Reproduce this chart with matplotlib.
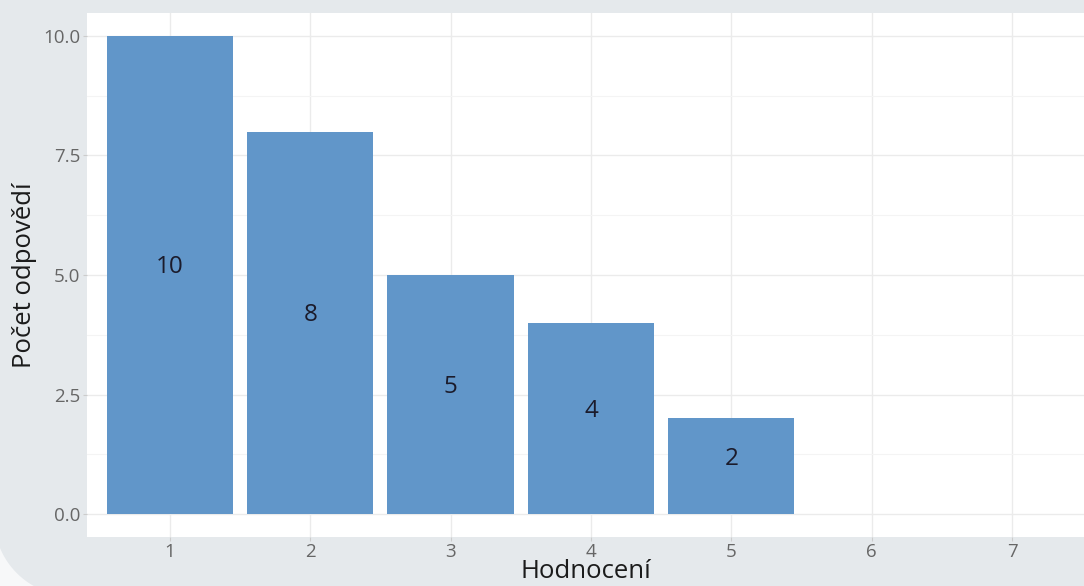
import matplotlib
matplotlib.use("Agg")
import matplotlib.pyplot as plt
from matplotlib.patches import Polygon
from matplotlib.ticker import MultipleLocator
import numpy as np

categories = [1, 2, 3, 4, 5]
counts = [10, 8, 5, 4, 2]
x_ticks = [1, 2, 3, 4, 5, 6, 7]
y_ticks = [0.0, 2.5, 5.0, 7.5, 10.0]
x_title = "Hodnocení"
y_title = "Počet odpovědí"

W, H = 1084, 586
BG = "#e5e9ec"
BAR = "#6196c9"
plt.rcParams["font.family"] = ["Open Sans", "DejaVu Sans"]

fig = plt.figure(figsize=(W / 100, H / 100), dpi=100, facecolor=BG)

# rounded corner (bottom-left) of the card
bgax = fig.add_axes([0, 0, 1, 1], zorder=-10)
bgax.set_xlim(0, W)
bgax.set_ylim(H, 0)
bgax.axis("off")
cx, cy, r = 72, 518, 78
xs = np.linspace(-5, cx, 200)
ys = []
for x in xs:
    dx = x - cx
    if abs(dx) <= r:
        ys.append(cy + np.sqrt(r * r - dx * dx))
    else:
        ys.append(cy)
poly = [(-5, H + 10)] + list(zip(xs, ys)) + [(cx, H + 10)]
bgax.add_patch(Polygon(poly, closed=True, facecolor="#f7f8f9", edgecolor="none"))

# main axes
left, right = 87, 1084
top, bottom = 13, 537
ax = fig.add_axes([left / W, 1 - bottom / H, (right - left) / W, (bottom - top) / H])
ax.set_facecolor("white")
ax.set_xlim(0.409, 7.513)
ax.set_ylim(-0.48, 10.48)

ax.bar(categories, counts, width=0.9, color=BAR, zorder=3)
for c, v in zip(categories, counts):
    ax.annotate(str(v), (c, v / 2), xytext=(0, 5.5), textcoords="offset points",
                ha="center", va="center", fontsize=17.5, color="#1b1b2b", zorder=4)

ax.set_xticks(x_ticks)
ax.set_xticklabels([str(t) for t in x_ticks])
ax.set_yticks(y_ticks)
ax.set_yticklabels([f"{t:.1f}" for t in y_ticks])
ax.yaxis.set_minor_locator(MultipleLocator(1.25))
ax.grid(True, which="major", color="#ebebeb", linewidth=1.0, zorder=0)
ax.grid(True, which="minor", axis="y", color="#f4f4f4", linewidth=0.8, zorder=0)
ax.tick_params(axis="both", which="major", colors="#cccccc", length=3, width=0.8,
               labelcolor="#666666", labelsize=13.5, pad=2)
ax.tick_params(axis="x", which="major", pad=1)
ax.tick_params(axis="both", which="minor", length=0)
for s in ax.spines.values():
    s.set_visible(False)

ax.set_xlabel(x_title, fontsize=18.5, color="#1b1b1b", labelpad=-1)
ax.set_ylabel(y_title, fontsize=18.5, color="#1b1b1b", labelpad=4)

fig.savefig("out.png", dpi=100, facecolor=BG)
